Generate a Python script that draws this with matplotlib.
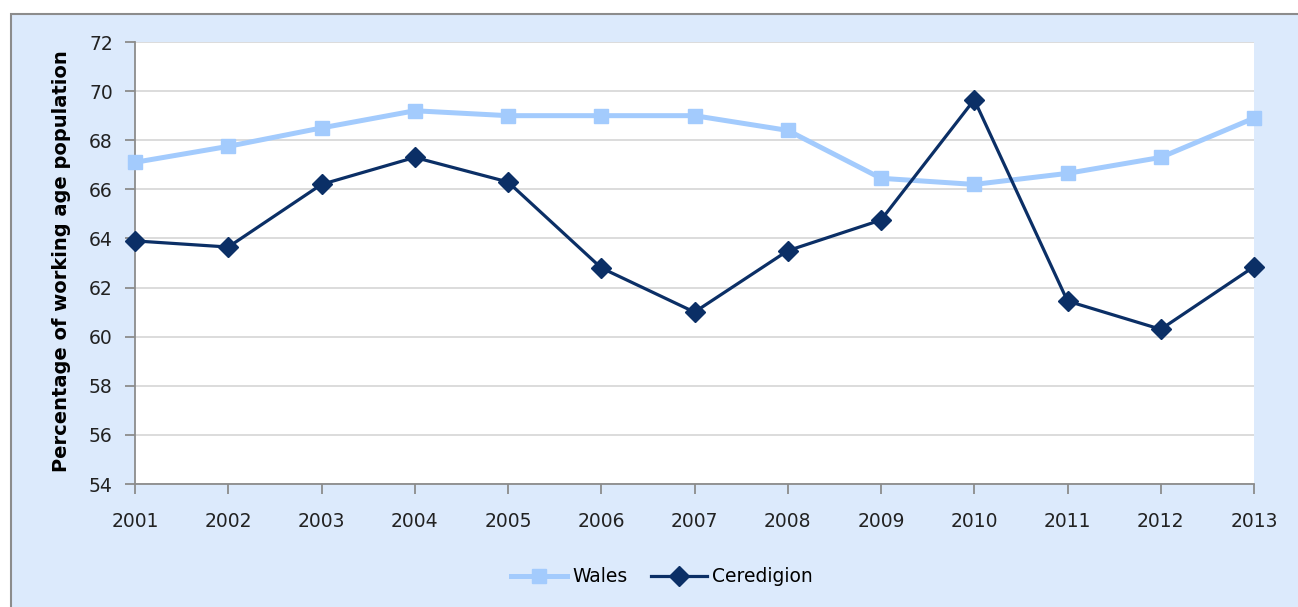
import matplotlib.pyplot as plt
from matplotlib.patches import Rectangle

# data
years = ['2001', '2002', '2003', '2004', '2005', '2006', '2007',
         '2008', '2009', '2010', '2011', '2012', '2013']
wales = [67.1, 67.75, 68.5, 69.2, 69.0, 69.0, 69.0, 68.4, 66.45, 66.2, 66.65, 67.3, 68.9]
ceredigion = [63.9, 63.65, 66.2, 67.3, 66.3, 62.8, 61.0, 63.5, 64.75, 69.65, 61.45, 60.3, 62.85]
yticks = [54, 56, 58, 60, 62, 64, 66, 68, 70, 72]

bg = '#dceafc'
wales_col = '#a3cbfd'
cer_col = '#0b2f66'

fig = plt.figure(figsize=(12.98, 6.07), dpi=100)
fig.patch.set_facecolor('white')
# chart area frame, behind the axes
fig.patches.append(Rectangle((11 / 1298, -0.05), 1.1, 1 - 14 / 607 + 0.05,
                             transform=fig.transFigure, facecolor=bg,
                             edgecolor='#8c8c8c', linewidth=1.5, zorder=-10))

ax = fig.add_axes([135 / 1298, 1 - 484 / 607, (1254 - 135) / 1298, (484 - 42) / 607])
ax.set_zorder(1)
ax.set_facecolor('white')
x = list(range(len(years)))
ax.plot(x, wales, color=wales_col, lw=3.6, marker='s', ms=10, label='Wales',
        zorder=3, clip_on=False)
ax.plot(x, ceredigion, color=cer_col, lw=2.3, marker='D', ms=10, label='Ceredigion',
        zorder=4, clip_on=False)

ax.set_xlim(0, len(years) - 1)
ax.set_ylim(54, 72)
ax.set_yticks(yticks)
ax.set_xticks(x)
ax.set_xticklabels(years)
ax.grid(axis='y', color='#d9d9d9', lw=1.3)
ax.set_axisbelow(True)
for s in ['top', 'right']:
    ax.spines[s].set_visible(False)
for s in ['left', 'bottom']:
    ax.spines[s].set_color('#8c8c8c')
    ax.spines[s].set_linewidth(1.3)
ax.tick_params(axis='both', colors='#8c8c8c', length=7, width=1.3, labelcolor='#222222',
               labelsize=13.5)
ax.tick_params(axis='x', pad=13)
ax.tick_params(axis='y', pad=9)
ax.set_ylabel('Percentage of working age population', fontsize=14, fontweight='bold')
ax.yaxis.set_label_coords(-0.057, 0.505)

fig.legend(loc='center', bbox_to_anchor=(662 / 1298, 1 - 577 / 607), ncol=2,
           frameon=False, fontsize=13.5, handlelength=3, columnspacing=1.2,
           handletextpad=0.3)

fig.savefig('out.png', dpi=100)
